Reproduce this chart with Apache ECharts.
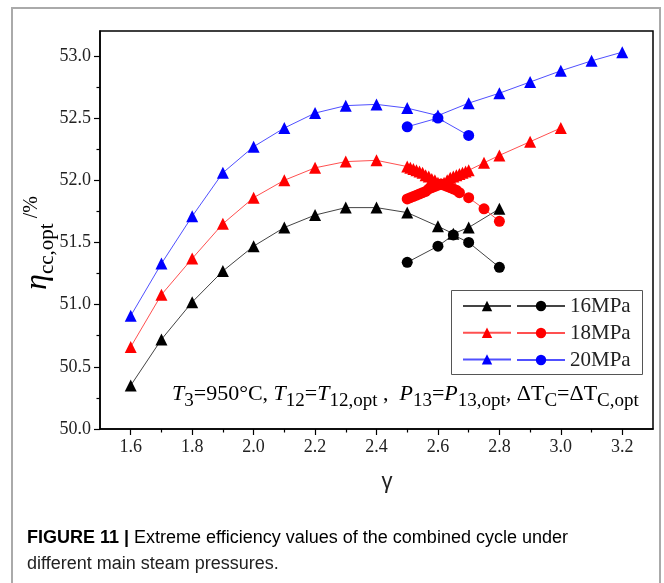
<!DOCTYPE html>
<html><head><meta charset="utf-8">
<script src="https://cdn.jsdelivr.net/npm/echarts@6/dist/echarts.min.js"></script>
<style>html,body{margin:0;padding:0;background:#fff}#c{width:664px;height:583px}</style>
</head><body><div id="c"></div>
<script>
// ---- tick values ----
const xTickLabels = [1.6, 1.8, 2.0, 2.2, 2.4, 2.6, 2.8, 3.0, 3.2];
const xMinorTicks = [1.7, 1.9, 2.1, 2.3, 2.5, 2.7, 2.9, 3.1];
const yTickLabels = [50.0, 50.5, 51.0, 51.5, 52.0, 52.5, 53.0];
const yMinorTicks = [50.25, 50.75, 51.25, 51.75, 52.25, 52.75];

// ---- 16 MPa ----
const gamma16Tri = [1.6, 1.7, 1.8, 1.9, 2.0, 2.1, 2.2, 2.3, 2.4, 2.5, 2.6, 2.65, 2.7, 2.8];
const eta16Tri   = [50.35, 50.72, 51.02, 51.27, 51.47, 51.62, 51.72, 51.78, 51.78, 51.74, 51.63, 51.57, 51.62, 51.77];
const gamma16Cir = [2.5, 2.6, 2.65, 2.7, 2.8];
const eta16Cir   = [51.34, 51.47, 51.56, 51.50, 51.30];

// ---- 18 MPa ----
const gamma18Tri = [1.6, 1.7, 1.8, 1.9, 2.0, 2.1, 2.2, 2.3, 2.4, 2.5,
  2.51, 2.52, 2.53, 2.54, 2.55, 2.56, 2.57, 2.58, 2.59, 2.60, 2.61,
  2.62, 2.63, 2.64, 2.65, 2.66, 2.67, 2.68, 2.69, 2.70, 2.75, 2.8, 2.9, 3.0];
const eta18Tri   = [50.66, 51.08, 51.37, 51.65, 51.86, 52.00, 52.10, 52.15, 52.16, 52.11,
  52.10, 52.09, 52.08, 52.07, 52.06, 52.04, 52.03, 52.01, 52.00, 51.98, 51.97,
  51.98, 52.00, 52.02, 52.03, 52.04, 52.05, 52.06, 52.07, 52.08, 52.14, 52.20, 52.31, 52.42];
const gamma18Cir = [2.5, 2.51, 2.52, 2.53, 2.54, 2.55, 2.56, 2.57, 2.58, 2.59, 2.60, 2.61,
  2.62, 2.63, 2.64, 2.65, 2.66, 2.67, 2.70, 2.75, 2.8];
const eta18Cir   = [51.85, 51.86, 51.87, 51.88, 51.89, 51.90, 51.91, 51.93, 51.94, 51.95, 51.96, 51.97,
  51.96, 51.95, 51.94, 51.93, 51.92, 51.90, 51.86, 51.77, 51.67];

// ---- 20 MPa ----
const gamma20Tri = [1.6, 1.7, 1.8, 1.9, 2.0, 2.1, 2.2, 2.3, 2.4, 2.5, 2.6, 2.7, 2.8, 2.9, 3.0, 3.1, 3.2];
const eta20Tri   = [50.91, 51.33, 51.71, 52.06, 52.27, 52.42, 52.54, 52.60, 52.61, 52.58, 52.52, 52.62, 52.70, 52.79, 52.88, 52.96, 53.03];
const gamma20Cir = [2.5, 2.6, 2.7];
const eta20Cir   = [52.43, 52.50, 52.36];

const legendNames = ['16MPa', '18MPa', '20MPa'];

const pair = (xs, ys) => xs.map((x, i) => [x, ys[i]]);

function mkSeries(name, xs, ys, symbol, size, color, lineColor) {
  return {
    name, type: 'line', data: pair(xs, ys), symbol, symbolSize: size,
    showAllSymbol: true, smooth: false,
    itemStyle: { color: color },
    lineStyle: { color: lineColor, width: 1 },
    emphasis: { disabled: true }, z: 3
  };
}

const serif = 'Liberation Serif, Times New Roman, serif';

const chart = echarts.init(document.getElementById('c'), null, { renderer: 'canvas' });
chart.setOption({
  animation: false,
  backgroundColor: '#fff',
  grid: { left: 100, right: 11, top: 31, bottom: 154, show: true, borderColor: '#000', borderWidth: 1.5, backgroundColor: 'transparent' },
  xAxis: [{
    type: 'value', min: 1.5, max: 3.3, position: 'bottom',
    axisLine: { show: true, lineStyle: { color: '#000', width: 1.5 } },
    axisTick: { show: true, length: 6, customValues: xTickLabels, lineStyle: { color: '#000', width: 1.2 } },
    axisLabel: { customValues: xTickLabels, formatter: v => v.toFixed(1), fontFamily: serif, fontSize: 18, color: '#222', margin: 9 },
    splitLine: { show: false }
  }, {
    type: 'value', min: 1.5, max: 3.3, position: 'bottom',
    axisLine: { show: false },
    axisTick: { show: true, length: 3.5, customValues: xMinorTicks, lineStyle: { color: '#000', width: 1.2 } },
    axisLabel: { show: false }, splitLine: { show: false }
  }],
  yAxis: [{
    type: 'value', min: 50, max: 53.2, position: 'left',
    axisLine: { show: true, lineStyle: { color: '#000', width: 1.5 } },
    axisTick: { show: true, length: 6, customValues: yTickLabels, lineStyle: { color: '#000', width: 1.2 } },
    axisLabel: { customValues: yTickLabels, formatter: v => v.toFixed(1), fontFamily: serif, fontSize: 18, color: '#222', margin: 9 },
    splitLine: { show: false }
  }, {
    type: 'value', min: 50, max: 53.2, position: 'left',
    axisLine: { show: false },
    axisTick: { show: true, length: 3.5, customValues: yMinorTicks, lineStyle: { color: '#000', width: 1.2 } },
    axisLabel: { show: false }, splitLine: { show: false }
  }],
  legend: [{
    orient: 'vertical', left: 462, top: 299.5, padding: 0, itemWidth: 48, itemHeight: 13, itemGap: 15,
    data: ['A16', 'A18', 'A20'], formatter: () => '', selectedMode: false,
    textStyle: { fontFamily: serif, fontSize: 1 }
  }, {
    orient: 'vertical', left: 516, top: 295.5, padding: 0, itemWidth: 48, itemHeight: 13, itemGap: 6,
    data: legendNames, selectedMode: false,
    textStyle: { fontFamily: serif, fontSize: 21, color: '#222' }
  }],
  series: [
    mkSeries('A16', gamma16Tri, eta16Tri, 'triangle', 12, '#000', '#444'),
    mkSeries('16MPa', gamma16Cir, eta16Cir, 'circle', 11, '#000', '#444'),
    mkSeries('A18', gamma18Tri, eta18Tri, 'triangle', 12, '#f00', '#ff5050'),
    mkSeries('18MPa', gamma18Cir, eta18Cir, 'circle', 11, '#f00', '#ff5050'),
    mkSeries('A20', gamma20Tri, eta20Tri, 'triangle', 12, '#00f', '#5050ff'),
    mkSeries('20MPa', gamma20Cir, eta20Cir, 'circle', 11, '#00f', '#5050ff')
  ],
  graphic: [
    { type: 'rect', silent: true, shape: { x: 12, y: 8, width: 648, height: 600 }, style: { fill: 'none', stroke: '#aaa', lineWidth: 2 } },
    { type: 'rect', silent: true, shape: { x: 451.5, y: 290.5, width: 191, height: 84 }, style: { fill: 'none', stroke: '#555', lineWidth: 1 }, z: 10 },
    { type: 'text', silent: true, x: 172, y: 397, style: {
        text: '{i|T}{s|3}{n|=950°C, }{i|T}{s|12}{n|=}{i|T}{s|12,opt}{n| ,  }{i|P}{s|13}{n|=}{i|P}{s|13,opt}{n|, ΔT}{s|C}{n|=ΔT}{s|C,opt}',
        textVerticalAlign: 'middle',
        rich: {
          i: { fontFamily: serif, fontStyle: 'italic', fontSize: 22, color: '#222', verticalAlign: 'bottom', padding: [0, 0, 6, 0] },
          n: { fontFamily: serif, fontSize: 22, color: '#222', verticalAlign: 'bottom', padding: [0, 0, 6, 0] },
          s: { fontFamily: serif, fontSize: 19, color: '#222', verticalAlign: 'bottom', padding: [0, 0, 0, 0] }
        }
      } },
    { type: 'text', silent: true, x: 387, y: 482, style: { text: 'γ', fontFamily: 'Liberation Sans, Arial, sans-serif', fontSize: 22, fill: '#222', textAlign: 'center', textVerticalAlign: 'middle' } },
    { type: 'text', silent: true, x: 40, y: 243, rotation: Math.PI / 2, style: {
        text: '{e|η}{s|cc,opt}{p| /%}', textAlign: 'center', textVerticalAlign: 'middle',
        rich: {
          e: { fontFamily: serif, fontStyle: 'italic', fontSize: 32, color: '#222', verticalAlign: 'bottom', padding: [0, 0, 4, 0] },
          s: { fontFamily: serif, fontSize: 21, color: '#222', verticalAlign: 'bottom', padding: [0, 0, 0, 0] },
          p: { fontFamily: serif, fontSize: 20, color: '#222', verticalAlign: 'bottom', padding: [0, 0, 16, 0] }
        }
      } },
    { type: 'text', silent: true, x: 27, y: 538, style: {
        text: '{b|FIGURE 11 | }{r|Extreme efficiency values of the combined cycle under}',
        textVerticalAlign: 'middle',
        rich: {
          b: { fontFamily: 'Liberation Sans, Arial, sans-serif', fontWeight: 'bold', fontSize: 18, color: '#222' },
          r: { fontFamily: 'Liberation Sans, Arial, sans-serif', fontSize: 18, color: '#222' }
        }
      } },
    { type: 'text', silent: true, x: 27, y: 564, style: {
        text: 'different main steam pressures.', textVerticalAlign: 'middle',
        fontFamily: 'Liberation Sans, Arial, sans-serif', fontSize: 18, fill: '#222'
      } }
  ]
});
</script></body></html>
